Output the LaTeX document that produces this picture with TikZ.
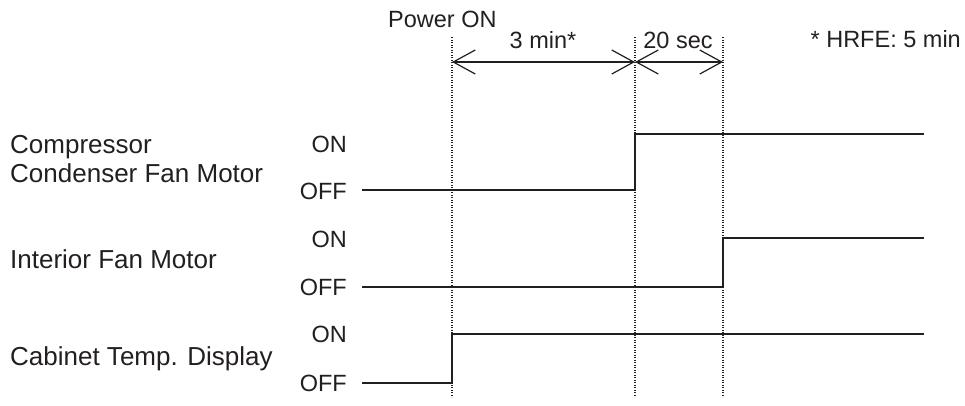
\documentclass[tikz,border=0pt]{standalone}
\usepackage{fontspec}
\setmainfont{Liberation Sans}
\usetikzlibrary{arrows.meta}
\definecolor{ink}{HTML}{231F20}
\begin{document}
\begin{tikzpicture}[x=1pt,y=-1pt,
  txt/.style={inner sep=0pt,text=ink,font=\fontsize{23.5}{28}\selectfont},
  lbl/.style={inner sep=0pt,text=ink,font=\fontsize{26}{30}\selectfont,anchor=base west},
  lvl/.style={txt,anchor=base east},
  sig/.style={line width=1.8pt,ink},
  guide/.style={line width=1.6pt,ink,dash pattern=on 1.2pt off 1.3pt},
  dim/.style={line width=1.2pt,ink,{Straight Barb[length=22pt,width=24pt,line width=1.2pt]}-{Straight Barb[length=22pt,width=24pt,line width=1.2pt]}}]
\useasboundingbox (0,0) rectangle (965,405);
% guides
\coordinate (g1t) at (452,37); \coordinate (g1b) at (452,397);
\coordinate (g2t) at (635,37); \coordinate (g2b) at (635,397);
\coordinate (g3t) at (723,37); \coordinate (g3b) at (723,397);
\draw[guide] (g1t) -- (g1b);
\draw[guide] (g2t) -- (g2b);
\draw[guide] (g3t) -- (g3b);
% top labels
\node[txt,anchor=base west] (pon) at (388,27) {Power ON};
\node[txt,anchor=base] (t3) at (543,48) {3 min*};
\node[txt,anchor=base] (t20) at (678,48) {20 sec};
\node[txt,anchor=base east] (hrfe) at (961,47) {* HRFE: 5 min};
% dimension arrows
\coordinate (d1) at (452,62); \coordinate (d2) at (635,62); \coordinate (d3) at (723,62);
\draw[dim] (d1) -- (d2);
\draw[dim] (d2) -- (d3);
% left labels
\node[lbl] (comp) at (10,153) {Compressor};
\node[lbl] (cond) at (10,182) {Condenser Fan Motor};
\node[lbl] (intf) at (10,268) {Interior Fan Motor};
\node[lbl] (cab) at (10,365) {Cabinet Temp. Display};
\node[lvl] (on1) at (347,152) {ON};
\node[lvl] (off1) at (347,199) {OFF};
\node[lvl] (on2) at (347,247) {ON};
\node[lvl] (off2) at (347,295) {OFF};
\node[lvl] (on3) at (347,342) {ON};
\node[lvl] (off3) at (347,391) {OFF};
% signals
\coordinate (s1a) at (362,190); \coordinate (s1b) at (635,190); \coordinate (s1c) at (635,134); \coordinate (s1d) at (924,134);
\draw[sig] (s1a) -- (s1b) -- (s1c) -- (s1d);
\coordinate (s2a) at (362,287); \coordinate (s2b) at (723,287); \coordinate (s2c) at (723,238); \coordinate (s2d) at (924,238);
\draw[sig] (s2a) -- (s2b) -- (s2c) -- (s2d);
\coordinate (s3a) at (362,383); \coordinate (s3b) at (452,383); \coordinate (s3c) at (452,334); \coordinate (s3d) at (924,334);
\draw[sig] (s3a) -- (s3b) -- (s3c) -- (s3d);
\end{tikzpicture}
\end{document}
